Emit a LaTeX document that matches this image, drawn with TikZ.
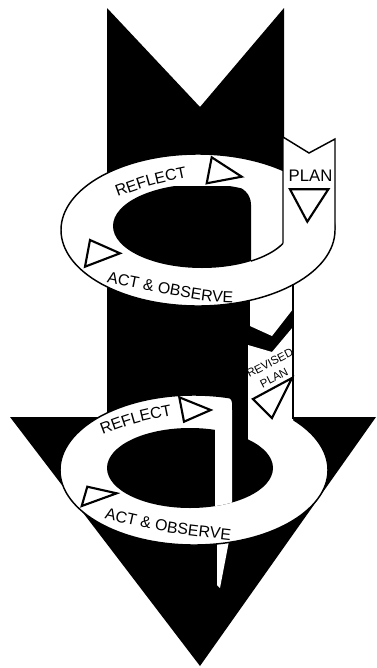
\documentclass[tikz,border=0pt]{standalone}
\usepackage{fontspec}
\setmainfont{Liberation Sans}
\usepackage{tikz}
\usetikzlibrary{decorations.text}
\definecolor{ink}{HTML}{000000}
\definecolor{paper}{HTML}{FFFFFF}
\newcommand\bandfont{\fontsize{12}{14}\selectfont}
\newcommand\revfont{\fontsize{8.6}{10}\selectfont}
\tikzset{
  band/.style={fill=paper,draw=ink,line width=1.1pt},
  edge/.style={draw=ink,line width=1.1pt},
  marker/.style={fill=paper,draw=ink,line width=1.6pt,line join=miter},
  bandlabel/.style={decorate,decoration={text along path,text={|\bandfont|#1},text align=center}}
}

\begin{document}
\begin{tikzpicture}[x=0.0265cm,y=-0.0265cm]
        \useasboundingbox (0,0) rectangle (376,668);
        \fill[ink] (107,8) -- (200,107) -- (284,8) -- (284,250) -- (293,250) -- (293,417) -- (376,417) -- (200,666) -- (10,417) -- (107,417) -- cycle;

        % first cycle
        \fill[paper] (250,280) -- (250,326) -- (272,336) -- (293,309) -- (293,280) -- cycle;
        \filldraw[band] (198,230) ellipse [x radius=137,y radius=76];
        \fill[paper] (283,137) -- (309,153) -- (335,139) -- (335,230) -- (283,230) -- cycle;
        \draw[edge] (283,243.4) -- (283,137) -- (309,153) -- (335,139) -- (335,230);
        \begin{scope}
          \clip[rounded corners=14pt] (100,186) rectangle (251,300);
          \fill[ink] (202,226) ellipse [x radius=89,y radius=42];
        \end{scope}
        \draw[edge] (251,261.06) arc [start angle=56.6,end angle=24.5,x radius=89,y radius=42];
        \draw[marker] (211.7,157.3) -- (206.7,183.3) -- (241.7,176.7) -- cycle;
        \draw[marker] (290,189.3) -- (328.3,189.3) -- (307.3,221.7) -- cycle;
        \draw[marker] (90,240) -- (85,266.7) -- (120,253.3) -- cycle;
        \path[bandlabel={REFLECT}] (112,199) .. controls (152,184.5) .. (193,176);
        \path[bandlabel={ACT {\&} OBSERVE}] (100,281) .. controls (205,302) .. (240,303);
        \node[font=\fontsize{12.6}{14}\selectfont,inner sep=0] (planlabel) at (310.5,176) {PLAN};

        % second cycle
        \fill[paper] (217,520) -- (217,585) -- (220,588) -- (233,520) -- cycle;
        \filldraw[band] (194,470) ellipse [x radius=134,y radius=75];
        \fill[ink] (232,403) arc [start angle=0,end angle=-90,radius=6] -- (226,385) -- (248,385) -- (248,450) -- (232,450) -- cycle;
        \fill[paper] (248,345) -- (272,352) -- (293,327) -- (293,445) -- (248,445) -- cycle;
        \fill[ink] (190,468) ellipse [x radius=83,y radius=40];
        \fill[paper] (215,410) -- (215,506.15) arc [start angle=72.5,end angle=59.6,x radius=83,y radius=40] -- (232,410) -- cycle;
        \draw[edge] (293,284) -- (293,419.4);
        \draw[marker] (179.3,397.3) -- (184,421.7) -- (210.7,410) -- cycle;
        \draw[marker] (253,399) -- (292,378) -- (272,418) -- cycle;
        \draw[marker] (87.3,486.7) -- (81.7,506) -- (116.7,493.3) -- cycle;
        \path[bandlabel={REFLECT}] (97,437) .. controls (137,422) .. (178,414);
        \path[bandlabel={ACT {\&} OBSERVE}] (97,517) .. controls (165,533) .. (238,541);
        \node[font=\revfont,rotate=27,inner sep=0] (revised) at (270,363) {REVISED};
        \node[font=\revfont,rotate=27,inner sep=0] (revplan) at (274,378) {PLAN};
      \end{tikzpicture}
\end{document}
